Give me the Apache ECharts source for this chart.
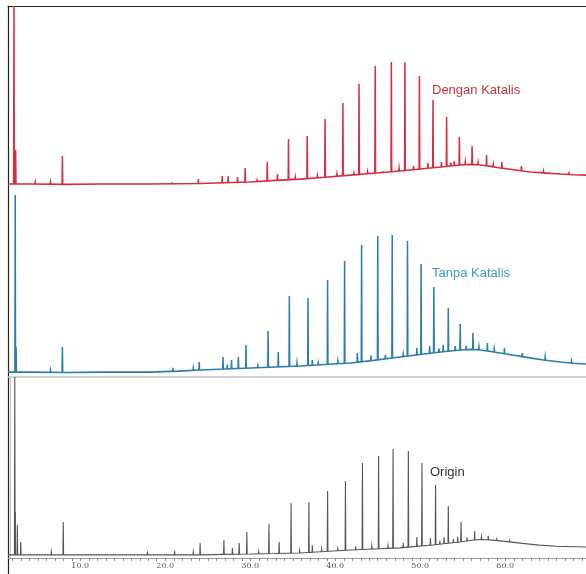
<!DOCTYPE html>
<html><head><meta charset="utf-8">
<script src="https://cdn.jsdelivr.net/npm/echarts@6/dist/echarts.min.js"></script>
<style>html,body{margin:0;padding:0;background:#fff}#c{width:586px;height:574px}</style>
</head><body><div id="c"></div>
<script>
// Retention time (min) tick labels
const xTickLabels = [10, 20, 30, 40, 50, 60];
const xMinorTicks = [2,3,4,5,6,7,8,9,10,11,12,13,14,15,16,17,18,19,20,21,22,23,24,25,26,27,28,29,30,31,32,33,34,35,36,37,38,39,40,41,42,43,44,45,46,47,48,49,50,51,52,53,54,55,56,57,58,59,60,61,62,63,64,65,66,67,68,69];
const panelNames = ['Dengan Katalis', 'Tanpa Katalis', 'Origin'];

// Baselines [time, relative intensity %]
const redBaseline = [[1.5,2.2],[4.1,2.2],[8.5,2.0],[12.4,2.2],[18.2,2.2],[24.1,2.5],[27.0,2.9],[30.0,3.3],[33.0,4.2],[35.9,4.9],[38.8,5.9],[41.8,7.1],[44.5,8.1],[47.6,9.3],[50.0,10.4],[52.4,11.5],[54.7,12.6],[56.0,13.0],[57.1,12.6],[58.3,11.9],[59.4,11.0],[61.0,10.0],[62.9,8.8],[64.5,8.3],[66.5,7.7],[68.0,7.3],[69.5,7.1]];
const blueBaseline = [[1.5,2.6],[4.1,2.6],[8.5,2.4],[12.4,2.6],[18.2,2.6],[21.5,3.1],[24.1,3.7],[27.0,4.2],[30.0,4.8],[33.0,5.3],[35.9,5.8],[38.8,6.6],[41.8,7.4],[44.5,8.8],[47.6,10.6],[50.0,11.9],[52.4,13.2],[54.7,14.3],[56.0,14.6],[57.1,14.3],[58.3,13.5],[59.4,12.7],[61.0,11.5],[62.9,10.1],[64.5,9.0],[66.5,7.9],[68.0,7.3],[69.5,6.9]];
const grayBaseline = [[1.5,1.7],[12.4,1.7],[24.1,1.7],[27.0,2.0],[30.0,2.2],[33.0,2.5],[35.9,2.8],[38.8,3.6],[41.8,4.4],[44.5,5.0],[47.6,5.6],[49.5,6.4],[51.5,7.2],[53.0,8.0],[54.7,8.8],[56.0,9.8],[57.2,10.2],[58.5,9.9],[60.0,9.2],[62.0,8.1],[64.0,7.1],[66.0,6.5],[69.5,6.1]];

// Peaks [time, apex intensity %]
const redPeaks = [[2.2,120],[2.4,21],[4.7,3.3],[6.5,3.3],[7.9,17.6],[20.8,2.7],[23.9,4.9],[26.7,6.6],[27.4,6.6],[28.5,6.0],[29.4,11.0],[30.8,4.3],[32.0,14.3],[33.2,7.7],[34.5,26.9],[35.3,6.0],[36.7,28.6],[37.9,6.8],[38.8,37.9],[40.2,7.8],[40.9,46.7],[42.2,8.2],[42.8,57.1],[43.8,9.0],[44.7,67.0],[45.6,8.8],[46.6,69.2],[47.5,11.0],[48.2,69.2],[49.2,12.1],[49.9,61.5],[50.9,13.7],[51.5,48.4],[52.5,14.3],[53.1,39.0],[53.6,14.0],[54.0,14.8],[54.6,28.0],[55.3,14.5],[56.1,23.1],[56.8,14.0],[57.8,18.1],[58.6,13.0],[59.6,14.3],[61.9,12.1],[64.5,9.3],[67.5,8.2]];
const bluePeaks = [[2.35,96.3],[2.45,15.9],[6.5,3.7],[7.9,15.9],[20.9,4.8],[23.3,4.8],[24.0,7.9],[26.8,10.6],[27.3,6.5],[27.8,9.0],[28.6,10.6],[29.5,16.9],[30.9,6.0],[32.1,24.3],[33.3,13.2],[34.6,42.9],[35.5,7.5],[36.8,41.8],[37.3,9.0],[38.0,7.5],[39.1,51.3],[40.3,8.5],[41.1,61.4],[42.6,12.7],[43.1,69.8],[44.2,11.5],[45.0,74.6],[45.9,11.8],[46.7,75.1],[48.0,12.2],[48.5,72.0],[49.6,15.3],[50.1,59.8],[51.1,16.4],[51.6,47.6],[52.2,15.0],[52.7,16.9],[53.3,36.5],[54.1,16.4],[54.7,28.0],[55.4,16.5],[56.2,23.3],[56.9,16.0],[57.9,18.0],[58.7,14.8],[59.9,15.3],[62.0,12.7],[64.7,10.6],[67.8,8.5]];
const grayPeaks = [[2.3,110],[2.35,25.4],[2.6,18.2],[3.0,8.8],[6.6,3.3],[8.0,19.9],[17.9,2.8],[21.1,3.9],[23.3,3.3],[24.1,8.3],[26.9,9.9],[27.9,5.5],[28.7,8.3],[29.6,14.4],[31.0,3.6],[32.2,18.8],[33.4,8.8],[34.8,30.4],[35.8,4.2],[36.9,30.9],[37.3,7.0],[38.4,5.0],[39.1,37.0],[40.3,5.2],[41.2,42.5],[42.4,6.5],[43.2,52.5],[44.3,6.8],[45.1,56.4],[46.2,7.0],[46.8,60.2],[48.0,8.3],[48.6,59.1],[49.6,11.6],[50.2,52.5],[51.2,11.0],[51.8,40.3],[52.3,9.5],[52.8,11.6],[53.3,28.7],[53.9,10.5],[54.4,11.6],[54.8,19.9],[55.5,11.5],[56.4,14.9],[57.2,11.8],[58.0,12.2],[59.0,10.5],[60.5,9.6]];

const RED = '#d32f3e', BLUE = '#2b7ea8', GRAY = '#555555';
const X_MIN = 1.5, X_MAX = 69.5, Y_MAX = 100;

function baseAt(base, t) {
  if (t <= base[0][0]) return base[0][1];
  for (let i = 1; i < base.length; i++) {
    if (t <= base[i][0]) {
      const a = base[i-1], b = base[i];
      return a[1] + (b[1]-a[1]) * (t-a[0]) / (b[0]-a[0]);
    }
  }
  return base[base.length-1][1];
}

function lineSeries(idx, base, color, lw) {
  return {type:'line', xAxisIndex:idx, yAxisIndex:idx, data:base, showSymbol:false, silent:true,
    animation:false, lineStyle:{color:color, width:lw}, itemStyle:{color:color}, z:2};
}
function spikeSeries(idx, peaks, base, color, lw) {
  return {type:'custom', xAxisIndex:idx, yAxisIndex:idx, data:peaks, silent:true, animation:false, z:3,
    renderItem:function(params, api){
      const t = api.value(0), top = Math.min(api.value(1), Y_MAX);
      const b = baseAt(base, t);
      const p0 = api.coord([t-0.04, b]), p1 = api.coord([t, top]), p2 = api.coord([t+0.04, b]);
      return {type:'polyline', shape:{points:[p0,p1,p2]}, style:{stroke:color, lineWidth:lw, fill:null}};
    }};
}

const grids = [
  {left:8, right:0, top:6, height:182},
  {left:8, right:0, top:188, height:189},
  {left:8, right:0, top:377, height:181}
];
const xAxes = [
  {gridIndex:0, type:'value', min:X_MIN, max:X_MAX, position:'top', axisLine:{show:true, onZero:false, lineStyle:{color:'#222', width:1}}, axisTick:{show:false}, axisLabel:{show:false}, splitLine:{show:false}},
  {gridIndex:1, type:'value', min:X_MIN, max:X_MAX, position:'bottom', axisLine:{show:true, onZero:false, lineStyle:{color:'#c4c4c4', width:1.5}}, axisTick:{show:false}, axisLabel:{show:false}, splitLine:{show:false}},
  {gridIndex:2, type:'value', min:X_MIN, max:X_MAX, position:'bottom', axisLine:{show:true, onZero:false, lineStyle:{color:'#9a9a9a', width:1}},
    axisTick:{show:true, customValues:xMinorTicks, length:3, lineStyle:{color:'#888'}},
    axisLabel:{show:true, customValues:xTickLabels, formatter:v=>v.toFixed(1), fontSize:8, color:'#555', margin:4, fontFamily:'DejaVu Serif'},
    splitLine:{show:false}}
];
const yAxes = [0,1,2].map(i => ({gridIndex:i, type:'value', min:0, max:Y_MAX,
  axisLine:{show:true, onZero:false, lineStyle:{color:'#222', width:1.2}}, axisTick:{show:false}, axisLabel:{show:false}, splitLine:{show:false}}));

const option = {
  backgroundColor:'#fff',
  animation:false,
  grid:grids, xAxis:xAxes, yAxis:yAxes,
  series:[
    lineSeries(0, redBaseline, RED, 1.6), spikeSeries(0, redPeaks, redBaseline, RED, 1.5),
    lineSeries(1, blueBaseline, BLUE, 1.6), spikeSeries(1, bluePeaks, blueBaseline, BLUE, 1.5),
    lineSeries(2, grayBaseline, GRAY, 1.1), spikeSeries(2, grayPeaks, grayBaseline, GRAY, 1.1)
  ],
  graphic:[
    {type:'line', shape:{x1:8.5, y1:558, x2:8.5, y2:574}, style:{stroke:'#222', lineWidth:1.2}},
    {type:'line', shape:{x1:10.5, y1:377, x2:10.5, y2:558}, style:{stroke:'#c4c4c4', lineWidth:1}},
    {type:'text', left:432, top:84, style:{text:panelNames[0], fill:'#c8323f', font:'13px "Liberation Sans", Arial, sans-serif'}},
    {type:'text', left:432, top:267, style:{text:panelNames[1], fill:'#3a9bc2', font:'13px "Liberation Sans", Arial, sans-serif'}},
    {type:'text', left:430, top:466, style:{text:panelNames[2], fill:'#333', font:'13px "Liberation Sans", Arial, sans-serif'}}
  ]
};
echarts.init(document.getElementById('c'), null, {renderer:'canvas'}).setOption(option);
</script></body></html>
